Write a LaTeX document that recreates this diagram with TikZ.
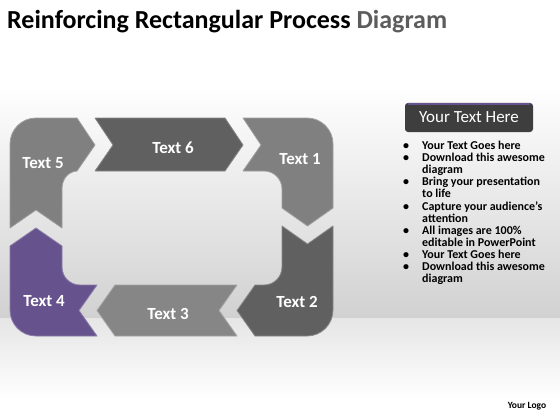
\documentclass[tikz,border=0pt]{standalone}
\usepackage{fontspec}
\setmainfont{Carlito}
\usetikzlibrary{positioning}
\definecolor{lightstep}{RGB}{128,128,128}
\definecolor{midstep}{RGB}{134,134,134}
\definecolor{darkstep}{RGB}{96,96,96}
\definecolor{purplestep}{RGB}{102,82,140}
\definecolor{headgray}{RGB}{62,62,62}
\definecolor{titlegray}{RGB}{92,92,92}
\tikzset{stepshape/.style = {fill=#1, draw=#1!75!white, line width=0.8pt, line join=round}}
\tikzset{steplabel/.style = {text=white, font=\fontsize{17}{20}\selectfont\bfseries}}
\tikzset{headbox/.style = {fill=headgray, text=white, rounded corners=3pt, minimum width=128pt, minimum height=29pt, inner sep=0, font=\fontsize{17}{20}\selectfont}}
\tikzset{listtext/.style = {inner sep=0, anchor=north west, font=\fontsize{12}{12}\selectfont\bfseries}}

\begin{document}
\begin{tikzpicture}[x=1pt, y=-1pt]
    \useasboundingbox (0, 0) rectangle (560, 420);

    % background
    \fill [white] (0, 0) rectangle (560, 420);
    \shade [top color=white, bottom color=black!18] (0, 85) rectangle (560, 318);
    \shade [top color=black!10, bottom color=white] (0, 318) rectangle (560, 400);

    % title
    \node [anchor=base west, inner sep=0, font=\fontsize{26}{30}\selectfont\bfseries] (title) at (7, 29)
      {Reinforcing Rectangular Process \textcolor{titlegray}{Diagram}};

    % the six steps
    \draw [stepshape=lightstep] (36, 210) -- (10, 228) -- (10, 144) .. controls (10, 129.6) and (21.6, 118) .. (36, 118)
      -- (77, 118) -- (95, 145) -- (77, 171) .. controls (67, 172) and (62, 180) .. (62, 189) -- (62, 228) -- cycle;
    \draw [stepshape=darkstep] (95, 118) -- (225, 118) -- (243, 145) -- (225, 171) -- (95, 171) -- (113, 145) -- cycle;
    \draw [stepshape=lightstep] (243, 118) -- (307, 118) .. controls (321.4, 118) and (333, 129.6) .. (333, 144)
      -- (333, 208) -- (307.5, 226) -- (282, 208) -- (282, 189) .. controls (282, 179) and (274, 171) .. (264, 171)
      -- (243, 171) -- (261, 145) -- cycle;
    \draw [stepshape=darkstep] (282, 226) -- (307.5, 244) -- (333, 226) -- (333, 310) .. controls (333, 324.4) and (321.4, 336) .. (307, 336)
      -- (255, 336) -- (237, 310.5) -- (255, 285) -- (264, 285) .. controls (274, 285) and (282, 277) .. (282, 267) -- cycle;
    \draw [stepshape=midstep] (115, 285) -- (237, 285) -- (219, 310.5) -- (237, 336) -- (115, 336) -- (97, 310.5) -- cycle;
    \draw [stepshape=purplestep] (36, 228) -- (62, 246) -- (62, 267) .. controls (62, 277) and (70, 285) .. (80, 285)
      -- (97, 285) -- (79, 310.5) -- (97, 336) -- (36, 336) .. controls (21.6, 336) and (10, 324.4) .. (10, 310) -- (10, 246) -- cycle;

    \node [steplabel] (t1) at (300, 159) {Text 1};
    \node [steplabel] (t2) at (297, 302) {Text 2};
    \node [steplabel] (t3) at (168, 314) {Text 3};
    \node [steplabel] (t4) at (44, 301) {Text 4};
    \node [steplabel] (t5) at (43, 163) {Text 5};
    \node [steplabel] (t6) at (173, 148) {Text 6};

    % text panel
    \node [headbox] (head) at (469, 117.5) {Your Text Here};
    \draw [purplestep, line width=2pt] ([xshift=3pt, yshift=-1pt]head.north west) -- ([xshift=-3pt, yshift=-1pt]head.north east);
    \node [listtext] (list) at (403, 141) {%
      \begin{tabular}{@{}p{19pt}@{}l@{}}
        \textbullet & Your Text Goes here\\
        \textbullet & Download this awesome\\
                    & diagram\\
        \textbullet & Bring your presentation\\
                    & to life\\
        \textbullet & Capture your audience’s\\
                    & attention\\
        \textbullet & All images are 100\%\\
                    & editable in PowerPoint\\
        \textbullet & Your Text Goes here\\
        \textbullet & Download this awesome\\
                    & diagram
      \end{tabular}};

    \node [inner sep=0, font=\fontsize{9.5}{11}\selectfont\bfseries] (logo) at (527, 406) {Your Logo};
  \end{tikzpicture}
\end{document}
